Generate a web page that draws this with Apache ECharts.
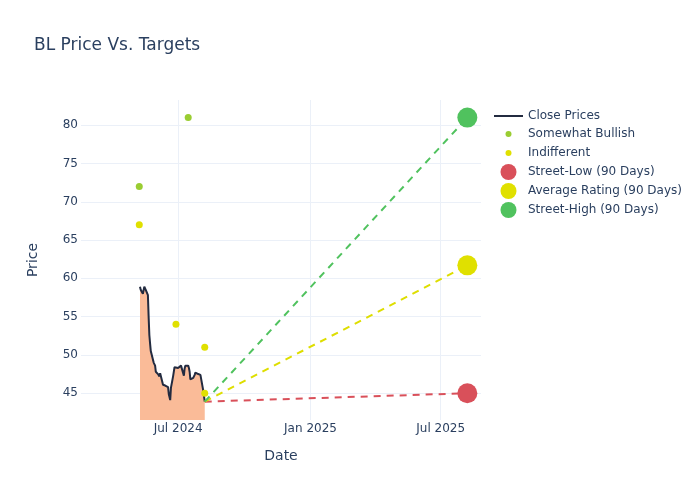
<!DOCTYPE html>
<html lang="en">
<head>
	<meta charset="UTF-8">
	<title>BL Price Vs. Targets</title>
	<script src="https://cdn.jsdelivr.net/npm/echarts@6/dist/echarts.min.js"></script>
	<style>
		html,body{width:100%;height:100%;margin:0;background:#fff;}
		#chart{width:700px;height:500px;}
	</style>
</head>
<body>
	<div id="chart"></div>
<script>
	// close prices (trading days)
	var closeDates = [
		'2024-05-09','2024-05-10','2024-05-13','2024-05-14','2024-05-15','2024-05-16','2024-05-17',
		'2024-05-20','2024-05-21','2024-05-22','2024-05-23','2024-05-24','2024-05-28','2024-05-29',
		'2024-05-30','2024-05-31','2024-06-03','2024-06-04','2024-06-05','2024-06-06','2024-06-07',
		'2024-06-10','2024-06-11','2024-06-12','2024-06-13','2024-06-14','2024-06-17','2024-06-18',
		'2024-06-20','2024-06-21','2024-06-24','2024-06-25','2024-06-26','2024-06-27','2024-06-28',
		'2024-07-01','2024-07-02','2024-07-03','2024-07-05','2024-07-08','2024-07-09','2024-07-10',
		'2024-07-11','2024-07-12','2024-07-15','2024-07-16','2024-07-17','2024-07-18','2024-07-19',
		'2024-07-22','2024-07-23','2024-07-24','2024-07-25','2024-07-26','2024-07-29','2024-07-30',
		'2024-07-31','2024-08-01','2024-08-02','2024-08-05','2024-08-06','2024-08-07'
	];
	var closePrices = [
		58.9, 58.5, 58.0, 58.1, 58.9, 58.9, 58.5,
		57.8, 55.0, 52.6, 51.5, 50.5, 49.0, 49.0,
		48.6, 47.8, 47.5, 47.4, 47.2, 47.6, 47.7,
		46.1, 46.0, 46.1, 46.0, 45.8, 45.8, 44.9,
		44.1, 45.7, 47.2, 47.4, 48.4, 48.2, 48.2,
		48.3, 48.2, 48.5, 48.6, 47.6, 47.3, 48.2,
		48.6, 48.4, 48.6, 48.3, 47.8, 46.8, 46.9,
		47.0, 47.0, 47.4, 47.7, 47.7, 47.5, 47.6,
		47.6, 47.4, 47.3, 45.3, 44.6, 43.9
	];

	// analyst ratings
	var bullishDates = ['2024-05-08', '2024-07-15'];
	var bullishValues = [72, 81];
	var indifferentDates = ['2024-05-08', '2024-06-28', '2024-08-07', '2024-08-07'];
	var indifferentValues = [67, 54, 51, 45];

	// 90 day targets
	var targetDate = '2025-08-07';
	var targetLow = 45;
	var targetAvg = 61.7;
	var targetHigh = 81;

	// axes
	var xMin = '2024-02-17';
	var xMax = '2025-08-26';
	var xTickDates = ['2024-07-01', '2025-01-01', '2025-07-01'];
	var xTickLabels = ['Jul 2024', 'Jan 2025', 'Jul 2025'];
	var yTicks = [45, 50, 55, 60, 65, 70, 75, 80];
	var yMin = 41.5;
	var yMax = 83.3;

	var txt = '#2a3f5f';
	var gridColor = '#ebf0f8';
	var font = 'DejaVu Sans';

	// legend icons (the leading moveTo's fix the icon box so the mark sits centred)
	var iconLine = 'path://M0,0M29,14M0,6L29,6L29,8L0,8Z';
	var iconDot = 'path://M0,0M29,14M11.5,7A3,3 0 1,1 17.5,7A3,3 0 1,1 11.5,7Z';
	var iconBig = 'path://M0,0M29,18M6.5,9A8,8 0 1,1 22.5,9A8,8 0 1,1 6.5,9Z';

	function ts(s) { return +echarts.time.parse(s); }
	function pairs(d, v) {
		var out = [];
		for (var i = 0; i < d.length; i++) out.push([ts(d[i]), v[i]]);
		return out;
	}

	var xTickValues = xTickDates.map(ts);
	var lastDate = closeDates[closeDates.length - 1];
	var lastPrice = closePrices[closePrices.length - 1];

	function dashLine(target, color) {
		return {
			type: 'line', symbol: 'none', silent: true, z: 3,
			lineStyle: { color: color, width: 2, type: [7, 6] },
			data: pairs([lastDate, targetDate], [lastPrice, target])
		};
	}
	function bigPoint(name, target, color) {
		return {
			name: name, type: 'scatter', symbolSize: 20, z: 5,
			itemStyle: { color: color, opacity: 1 },
			data: pairs([targetDate], [target])
		};
	}

	var legendText = { fontFamily: font, fontSize: 12, color: txt };

	var myChart = echarts.init(document.getElementById('chart'));
	myChart.setOption({
		animation: false,
		textStyle: { fontFamily: font },
		title: {
			text: 'BL Price Vs. Targets',
			left: 34, top: 37, padding: 0,
			textStyle: { fontFamily: font, fontSize: 17, fontWeight: 'normal', color: txt }
		},
		legend: [
			{
				data: [{ name: 'Close Prices', icon: iconLine }],
				orient: 'vertical', left: 494, top: 109, padding: 0,
				itemWidth: 29, itemHeight: 14, itemGap: 5, textStyle: legendText
			},
			{
				data: [
					{ name: 'Somewhat Bullish', icon: iconDot },
					{ name: 'Indifferent', icon: iconDot }
				],
				orient: 'vertical', left: 494, top: 127, padding: 0,
				itemWidth: 29, itemHeight: 14, itemGap: 5, textStyle: legendText
			},
			{
				data: [
					{ name: 'Street-Low (90 Days)', icon: iconBig },
					{ name: 'Average Rating (90 Days)', icon: iconBig },
					{ name: 'Street-High (90 Days)', icon: iconBig }
				],
				orient: 'vertical', left: 494, top: 163, padding: 0,
				itemWidth: 29, itemHeight: 18, itemGap: 1, textStyle: legendText
			}
		],
		grid: { left: 81, right: 219, top: 100, bottom: 80 },
		xAxis: {
			type: 'value',
			min: ts(xMin), max: ts(xMax),
			name: 'Date', nameLocation: 'middle', nameGap: 29,
			nameTextStyle: { fontFamily: font, fontSize: 14, color: txt },
			axisLine: { show: false },
			axisTick: { show: false, customValues: xTickValues },
			axisLabel: {
				customValues: xTickValues, margin: 3,
				color: txt, fontSize: 12, fontFamily: font,
				formatter: function (v) {
					var i = xTickValues.indexOf(+v);
					return i >= 0 ? xTickLabels[i] : '';
				}
			},
			splitLine: { show: true, lineStyle: { color: gridColor, width: 1 } }
		},
		yAxis: {
			type: 'value',
			min: yMin, max: yMax,
			name: 'Price', nameLocation: 'middle', nameGap: 41,
			nameTextStyle: { fontFamily: font, fontSize: 14, color: txt },
			axisLine: { show: false },
			axisTick: { show: false, customValues: yTicks },
			axisLabel: { customValues: yTicks, margin: 3, color: txt, fontSize: 12, fontFamily: font },
			splitLine: { show: true, lineStyle: { color: gridColor, width: 1 } }
		},
		series: [
			{
				name: 'Close Prices', type: 'line', symbol: 'none', z: 2,
				lineStyle: { color: '#232b40', width: 2 },
				itemStyle: { color: '#232b40' },
				areaStyle: { color: '#fabb98', opacity: 1, origin: 'start' },
				data: pairs(closeDates, closePrices)
			},
			dashLine(targetLow, '#d9505a'),
			dashLine(targetAvg, '#dede00'),
			dashLine(targetHigh, '#50c25e'),
			{
				name: 'Somewhat Bullish', type: 'scatter', symbolSize: 7, z: 4,
				itemStyle: { color: '#9acd32', opacity: 1 },
				data: pairs(bullishDates, bullishValues)
			},
			{
				name: 'Indifferent', type: 'scatter', symbolSize: 7, z: 4,
				itemStyle: { color: '#e0e000', opacity: 1 },
				data: pairs(indifferentDates, indifferentValues)
			},
			bigPoint('Street-Low (90 Days)', targetLow, '#d9505a'),
			bigPoint('Average Rating (90 Days)', targetAvg, '#e0e000'),
			bigPoint('Street-High (90 Days)', targetHigh, '#50c25e')
		]
	});
</script>
</body>
</html>
